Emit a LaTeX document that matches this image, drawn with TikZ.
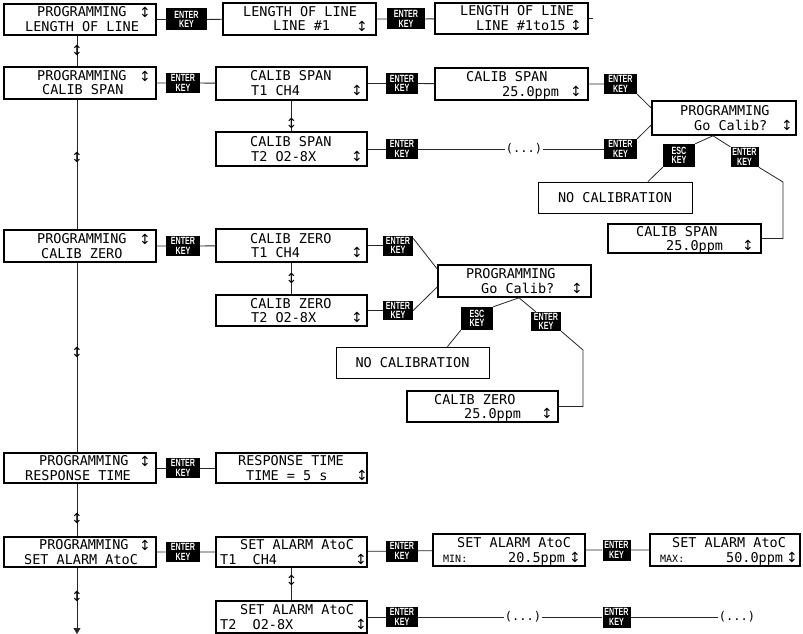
\documentclass[tikz,border=0pt]{standalone}
\usepackage{fontspec}
\usetikzlibrary{arrows.meta,calc}
\newfontfamily\lcdfont{DejaVu Sans Mono}
\newfontfamily\symfont{DejaVu Sans}
\newfontfamily\keyfont[FakeStretch=0.68]{Liberation Sans}
\tikzset{
 scr/.style={draw, line width=1.6pt, inner sep=0pt},
 thinscr/.style={draw, line width=0.9pt, inner sep=0pt, font=\lcdfont\fontsize{13.5}{15}\selectfont},
 keybox/.style={fill=black, text=white, inner sep=0pt, align=center, font=\keyfont\bfseries\fontsize{10.5}{9.5}\selectfont},
 lcd/.style={inner sep=0pt, anchor=base west, font=\lcdfont\fontsize{13.5}{15}\selectfont},
 lcdsmall/.style={inner sep=0pt, anchor=base west, font=\lcdfont\fontsize{10}{12}\selectfont},
 udg/.style={inner sep=0pt, font=\symfont\fontsize{14}{15}\selectfont},
 conn/.style={line width=0.8pt, draw=black!85},
 dots/.style={inner sep=1pt, font=\lcdfont\fontsize{12}{13}\selectfont},
}
\newcommand\lcdbox[5]{\node[scr, minimum width={#4-#2}, minimum height={#5-#3}] (#1) at ({(#2+#4)/2},{(#3+#5)/2}) {};}
\newcommand\kbox[6]{\node[keybox, minimum width=#4, minimum height=#5] (#1) at (#2,#3) {#6};}
\newcommand\lcdtxt[4]{\node[lcd] (#1) at (#2,#3) {#4};}
\newcommand\udg[3]{\node[udg] (#1) at (#2,#3) {↕};}
\begin{document}
\begin{tikzpicture}[x=1pt,y=-1pt]
\fill[white] (0,0) rectangle (803,634);
\useasboundingbox (0,0) rectangle (803,634);

% ---------- boxes ----------
\lcdbox{A1}{4}{4}{156}{35}
\lcdbox{A2}{223}{3}{376}{35}
\lcdbox{A3}{435}{3}{588}{34}
\lcdbox{B1}{4}{67}{156}{99}
\lcdbox{B2}{216}{67}{367}{100}
\lcdbox{B3}{435}{68}{588}{100}
\lcdbox{Go1}{652}{101}{796}{135}
\lcdbox{B4}{216}{132}{367}{166}
\lcdbox{CS1}{608}{224}{761}{253}
\lcdbox{C1}{4}{230}{156}{262}
\lcdbox{C2}{216}{229}{367}{262}
\lcdbox{C4}{216}{295}{367}{326}
\lcdbox{Go2}{438}{265}{591}{297}
\lcdbox{CZ}{407}{391}{558}{422}
\lcdbox{D1}{4}{453}{156}{483}
\lcdbox{D2}{216}{453}{367}{483}
\lcdbox{E1}{4}{537}{156}{567}
\lcdbox{E2}{216}{537}{367}{567}
\lcdbox{E3}{433}{534}{585}{566}
\lcdbox{E4}{650}{534}{800}{566}
\lcdbox{E5}{216}{601}{367}{633}
\node[thinscr, minimum width=154, minimum height=31] (NC1) at (615,197.5) {NO CALIBRATION};
\node[thinscr, minimum width=153, minimum height=31] (NC2) at (412.5,362.5) {NO CALIBRATION};

% ---------- texts ----------
\lcdtxt{a1a}{37}{17}{PROGRAMMING}
\lcdtxt{a1b}{25}{31.5}{LENGTH OF LINE}
\udg{ga1}{145}{12.5}
\lcdtxt{a2a}{243}{16.5}{LENGTH OF LINE}
\lcdtxt{a2b}{273}{31}{LINE \#1}
\udg{ga2}{362}{26}
\lcdtxt{a3a}{460}{16}{LENGTH OF LINE}
\lcdtxt{a3b}{476}{30.5}{LINE \#1to15}
\udg{ga3}{576}{25.5}

\lcdtxt{b1a}{37}{80.5}{PROGRAMMING}
\lcdtxt{b1b}{42}{95}{CALIB SPAN}
\udg{gb1}{145}{76}
\lcdtxt{b2a}{250}{81}{CALIB SPAN}
\lcdtxt{b2b}{251}{95.5}{T1 CH4}
\udg{gb2}{357}{90.5}
\lcdtxt{b3a}{466}{81.5}{CALIB SPAN}
\lcdtxt{b3b}{502}{96}{25.0ppm}
\udg{gb3}{576}{91}
\lcdtxt{g1a}{680}{115.5}{PROGRAMMING}
\lcdtxt{g1b}{694}{130}{Go Calib?}
\udg{gg1}{787}{125}
\lcdtxt{b4a}{250}{146.5}{CALIB SPAN}
\lcdtxt{b4b}{251}{161}{T2 O2-8X}
\udg{gb4}{357}{156}
\lcdtxt{s1a}{636}{236}{CALIB SPAN}
\lcdtxt{s1b}{666}{250.5}{25.0ppm}
\udg{gs1}{748}{245.5}

\lcdtxt{c1a}{37}{243.5}{PROGRAMMING}
\lcdtxt{c1b}{41}{258}{CALIB ZERO}
\udg{gc1}{145}{239}
\lcdtxt{c2a}{250}{243}{CALIB ZERO}
\lcdtxt{c2b}{251}{257.5}{T1 CH4}
\udg{gc2}{357}{252.5}
\lcdtxt{c4a}{250}{308}{CALIB ZERO}
\lcdtxt{c4b}{251}{322.5}{T2 O2-8X}
\udg{gc4}{357}{317.5}
\lcdtxt{g2a}{466}{278.5}{PROGRAMMING}
\lcdtxt{g2b}{481}{293}{Go Calib?}
\udg{gg2}{577}{288}
\lcdtxt{z1a}{434}{404}{CALIB ZERO}
\lcdtxt{z1b}{464}{418.5}{25.0ppm}
\udg{gz1}{547}{413.5}

\lcdtxt{d1a}{39}{465.5}{PROGRAMMING}
\lcdtxt{d1b}{25}{480}{RESPONSE TIME}
\udg{gd1}{145}{461}
\lcdtxt{d2a}{238}{465.5}{RESPONSE TIME}
\lcdtxt{d2b}{246}{480}{TIME = 5 s}
\udg{gd2}{362}{475}

\lcdtxt{e1a}{39}{549.5}{PROGRAMMING}
\lcdtxt{e1b}{24}{564}{SET ALARM AtoC}
\udg{ge1}{145}{545}
\lcdtxt{e2a}{240}{549.5}{SET ALARM AtoC}
\lcdtxt{e2b}{220}{564}{T1\ \ CH4}
\udg{ge2}{361}{559}
\lcdtxt{e3a}{457}{547.5}{SET ALARM AtoC}
\node[lcdsmall] (e3b) at (443,562) {MIN:};
\lcdtxt{e3c}{508}{562}{20.5ppm}
\udg{ge3}{575}{557}
\lcdtxt{e4a}{672}{547.5}{SET ALARM AtoC}
\node[lcdsmall] (e4b) at (660,562) {MAX:};
\lcdtxt{e4c}{726}{562}{50.0ppm}
\udg{ge4}{792}{557}
\lcdtxt{e5a}{240}{614.5}{SET ALARM AtoC}
\lcdtxt{e5b}{220}{629}{T2\ \ O2-8X}
\udg{ge5}{361}{624}

% ---------- keys ----------
\kbox{KA1}{186.5}{19.5}{41}{22}{ENTER\\KEY}
\kbox{KA2}{406}{19}{38}{21}{ENTER\\KEY}
\kbox{KB1}{183}{83}{34}{20}{ENTER\\KEY}
\kbox{KB2}{402}{83.5}{32}{20}{ENTER\\KEY}
\kbox{KB3}{620.5}{84}{33}{20}{ENTER\\KEY}
\kbox{KB4}{402}{149}{32}{20}{ENTER\\KEY}
\kbox{KB5}{620.5}{149}{33}{20}{ENTER\\KEY}
\kbox{ESC1}{679}{155.5}{32}{23}{ESC\\KEY}
\kbox{ENT1}{744.5}{157}{28}{20}{ENTER\\KEY}
\kbox{KC1}{183}{246}{34}{20}{ENTER\\KEY}
\kbox{KC2}{398}{245.5}{30}{20}{ENTER\\KEY}
\kbox{KC4}{398}{310.5}{30}{19}{ENTER\\KEY}
\kbox{ESC2}{477}{318.5}{32}{23}{ESC\\KEY}
\kbox{ENT2}{546}{321.5}{30}{19}{ENTER\\KEY}
\kbox{KD1}{183}{468}{34}{20}{ENTER\\KEY}
\kbox{KE1}{183}{552}{34}{20}{ENTER\\KEY}
\kbox{KE2}{402}{551}{32}{21}{ENTER\\KEY}
\kbox{KE3}{616.5}{550}{28}{21}{ENTER\\KEY}
\kbox{KE5}{402}{617}{32}{20}{ENTER\\KEY}
\kbox{KE5b}{616.5}{617}{28}{21}{ENTER\\KEY}

\node[dots] (dots1) at (524,149) {(...)};
\node[dots] (dots2) at (523,617) {(...)};
\node[dots] (dots3) at (737,617) {(...)};

% ---------- horizontal connectors ----------
\draw[conn] (A1) -- (KA1) -- (A2) -- (KA2) -- (A3);
\coordinate (stub) at (593,18.5);
\draw[conn] (A3.east) -- (stub);
\draw[conn] (B1) -- (KB1) -- (B2) -- (KB2) -- (B3) -- (KB3);
\draw[conn] (B4) -- (KB4) -- (dots1) -- (KB5);
\draw[conn] (C1) -- (KC1) -- (C2) -- (KC2);
\draw[conn] (C4) -- (KC4);
\draw[conn] (D1) -- (KD1) -- (D2);
\draw[conn] (E1) -- (KE1) -- (E2) -- (KE2) -- (E3) -- (KE3) -- (E4);
\draw[conn] (E5) -- (KE5) -- (dots2) -- (KE5b) -- (dots3);

% ---------- Go Calib 1 ----------
\draw[conn] (KB3.south east) -- ([yshift=10pt]Go1.west);
\draw[conn] (KB5.north east) -- ([yshift=-7pt]Go1.west);
\draw[conn] ([xshift=-11pt]Go1.south) -- (ESC1.north east);
\draw[conn] ([xshift=-11pt]Go1.south) -- (ENT1.north west);
\draw[conn] (ESC1.south west) -- ([xshift=33pt]NC1.north);
\coordinate (t1) at (783,182);
\draw[conn] (ENT1.south east) -- (t1) -- (t1 |- CS1.east) -- (CS1.east);

% ---------- Go Calib 2 ----------
\draw[conn] ([yshift=-3pt]KC2.north east) -- ([yshift=12pt]Go2.west);
\draw[conn] (KC4.east) -- ([yshift=-6pt]Go2.west);
\draw[conn] ([xshift=4.5pt]Go2.south) -- (ESC2.north east);
\draw[conn] ([xshift=4.5pt]Go2.south) -- ([xshift=5pt]ENT2.north west);
\draw[conn] (ESC2.south west) -- ([xshift=35pt]NC2.north);
\coordinate (t2) at (583,350);
\draw[conn] (ENT2.south east) -- (t2) -- (t2 |- CZ.east) -- (CZ.east);

% ---------- vertical connectors ----------
\draw[conn] ([xshift=-3pt]A1.south) -- ([xshift=-3pt]B1.north);
\draw[conn] ([xshift=-3pt]B1.south) -- ([xshift=-3pt]C1.north);
\draw[conn] ([xshift=-3pt]C1.south) -- ([xshift=-3pt]D1.north);
\draw[conn] ([xshift=-3pt]D1.south) -- ([xshift=-3pt]E1.north);
\coordinate (mend) at (77,634);
\draw[conn, -{Triangle[width=7pt,length=6pt]}] ([xshift=-3pt]E1.south) -- (mend);
\draw[conn] (B2.south) -- (B4.north);
\draw[conn] (C2.south) -- (C4.north);
\draw[conn] (E2.south) -- (E5.north);

\udg{gm1}{77}{50}
\udg{gm2}{77}{157}
\udg{gm3}{77}{352}
\udg{gm4}{77}{518}
\udg{gm5}{77}{596}
\udg{gs2}{291.5}{123}
\udg{gs3}{291.5}{278}
\udg{gs4}{291.5}{580}
\end{tikzpicture}
\end{document}
